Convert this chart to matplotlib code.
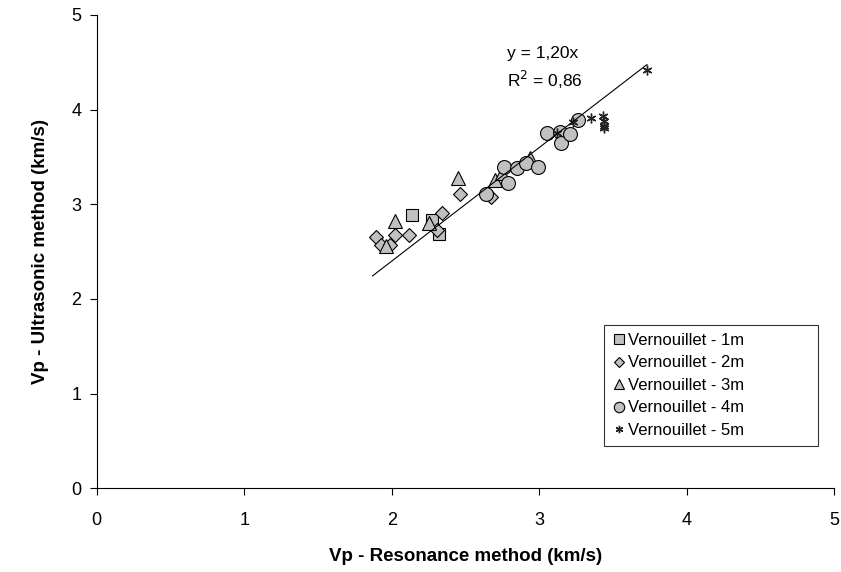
import matplotlib
matplotlib.use("Agg")
import matplotlib.pyplot as plt
import numpy as np

plt.rcParams["font.family"] = ["Liberation Sans", "DejaVu Sans"]

# Vp values (km/s): resonance x, ultrasonic y
x_1m = [2.14, 2.27, 2.32]
y_1m = [2.89, 2.83, 2.69]

x_2m = [1.89, 1.93, 1.99, 2.02, 2.12, 2.31, 2.34, 2.46, 2.67]
y_2m = [2.65, 2.57, 2.57, 2.68, 2.68, 2.73, 2.91, 3.11, 3.08]

x_3m = [1.96, 2.02, 2.25, 2.45, 2.70, 2.75, 2.94]
y_3m = [2.56, 2.82, 2.80, 3.28, 3.26, 3.33, 3.49]

x_4m = [2.64, 2.76, 2.79, 2.85, 2.91, 2.99, 3.05, 3.14, 3.15, 3.21, 3.26]
y_4m = [3.11, 3.39, 3.23, 3.38, 3.44, 3.39, 3.75, 3.76, 3.65, 3.74, 3.89]

x_5m = [3.12, 3.23, 3.35, 3.43, 3.44, 3.44, 3.44, 3.73]
y_5m = [3.75, 3.87, 3.91, 3.93, 3.88, 3.83, 3.81, 4.42]

slope = 1.20
r2 = 0.86

fig = plt.figure(figsize=(8.41, 5.72), dpi=100)
ax = fig.add_axes([0.115, 0.1463, 0.877, 0.8275])

gray = "#c0c0c0"
ax.plot(x_1m, y_1m, "s", ms=9, mfc=gray, mec="black", mew=0.8, ls="none", label="Vernouillet - 1m")
ax.plot(x_2m, y_2m, "D", ms=7, mfc=gray, mec="black", mew=0.8, ls="none", label="Vernouillet - 2m")
ax.plot(x_3m, y_3m, "^", ms=10, mfc=gray, mec="black", mew=0.8, ls="none", label="Vernouillet - 3m")
ax.plot(x_4m, y_4m, "o", ms=10, mfc=gray, mec="black", mew=0.8, ls="none", label="Vernouillet - 4m")
ax.plot(x_5m, y_5m, marker=(6, 2, 0), ms=7, mec="#222222", mew=1.0, ls="none", label="Vernouillet - 5m")

# trend line through origin
all_x = np.concatenate([x_1m, x_2m, x_3m, x_4m, x_5m])
lx = np.array([all_x.min() - 0.02, all_x.max()])
ax.plot(lx, slope * lx, color="black", lw=0.8)

ax.text(2.78, 4.55, "y = 1,20x", fontsize=12.5)
ax.text(2.78, 4.24, "R$^2$ = 0,86", fontsize=12.5)

ax.set_xlim(0, 5)
ax.set_ylim(0, 5)
ax.set_xticks(range(6))
ax.set_yticks(range(6))
ax.tick_params(labelsize=13, direction="out", length=5, width=0.8)
ax.tick_params(axis="x", pad=12)
ax.tick_params(axis="y", pad=6)
ax.spines["top"].set_visible(False)
ax.spines["right"].set_visible(False)

ax.set_xlabel("Vp - Resonance method (km/s)", fontsize=13.5, fontweight="bold", labelpad=14)
ax.set_ylabel("Vp - Ultrasonic method (km/s)", fontsize=13.5, fontweight="bold", labelpad=16)

leg = ax.legend(loc="lower left", bbox_to_anchor=(0.688, 0.089, 0.29, 0.265), mode="expand",
                fontsize=12, frameon=True, fancybox=False, handlelength=0.8, handletextpad=0.15,
                borderpad=0.5, labelspacing=0.45, markerscale=0.75, borderaxespad=0)
leg.get_frame().set_edgecolor("black")
leg.get_frame().set_linewidth(0.8)

fig.savefig("out.png", dpi=100)
